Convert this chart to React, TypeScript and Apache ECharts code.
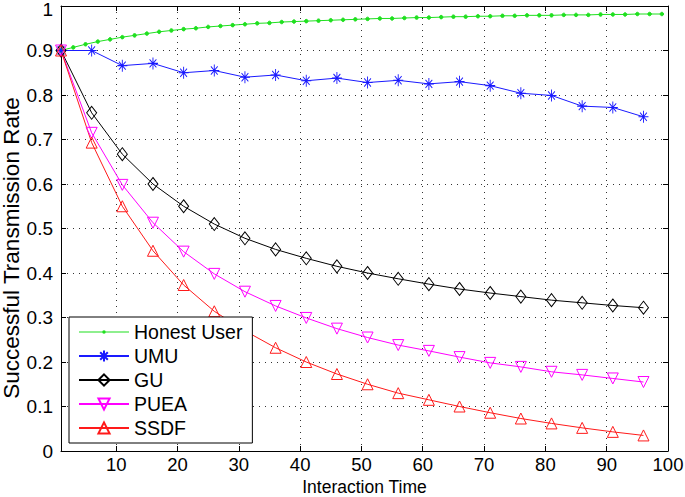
import React, { useEffect, useRef } from "react";
import * as echarts from "echarts";

const honestX = [1, 3, 5, 7, 9, 11, 13, 15, 17, 19, 21, 23, 25, 27, 29, 31, 33, 35, 37, 39, 41, 43, 45, 47, 49, 51, 53, 55, 57, 59, 61, 63, 65, 67, 69, 71, 73, 75, 77, 79, 81, 83, 85, 87, 89, 91, 93, 95, 97, 99];
const honestY = [0.9, 0.907, 0.914, 0.92, 0.925, 0.93, 0.934, 0.938, 0.942, 0.945, 0.948, 0.95, 0.953, 0.955, 0.957, 0.959, 0.961, 0.962, 0.964, 0.965, 0.966, 0.967, 0.968, 0.969, 0.97, 0.971, 0.972, 0.972, 0.973, 0.974, 0.974, 0.975, 0.976, 0.976, 0.977, 0.977, 0.978, 0.978, 0.979, 0.979, 0.979, 0.98, 0.98, 0.98, 0.981, 0.981, 0.981, 0.982, 0.982, 0.982];

const markX = [1, 6, 11, 16, 21, 26, 31, 36, 41, 46, 51, 56, 61, 66, 71, 76, 81, 86, 91, 96];
const umuY = [0.9, 0.9, 0.866, 0.871, 0.85, 0.855, 0.84, 0.845, 0.832, 0.838, 0.828, 0.833, 0.825, 0.83, 0.821, 0.804, 0.799, 0.775, 0.772, 0.751];
const guY = [0.9, 0.76, 0.667, 0.6, 0.55, 0.51, 0.478, 0.453, 0.433, 0.415, 0.4, 0.387, 0.375, 0.364, 0.355, 0.347, 0.339, 0.333, 0.327, 0.322];
const pueaY = [0.9, 0.715, 0.598, 0.513, 0.448, 0.398, 0.358, 0.326, 0.299, 0.275, 0.255, 0.238, 0.225, 0.211, 0.198, 0.189, 0.178, 0.171, 0.163, 0.155];
const ssdfY = [0.9, 0.693, 0.55, 0.45, 0.373, 0.314, 0.27, 0.232, 0.2, 0.173, 0.15, 0.13, 0.115, 0.1, 0.086, 0.073, 0.062, 0.052, 0.043, 0.035];

const seriesNames = ["Honest User", "UMU", "GU", "PUEA", "SSDF"];
const xTitle = "Interaction Time";
const yTitle = "Successful Transmission Rate";
const yMaxLabel = "1";

const FONT = "Liberation Sans, Arial, Helvetica, sans-serif";
const asterisk = "path://M5,0L5,10M0,5L10,5M1.6,1.6L8.4,8.4M1.6,8.4L8.4,1.6";
const dotLineIcon = "path://M0,0M50,14M0,6.5L50,6.5L50,7.5L0,7.5Z M23.2,7 A1.8,1.8 0 1 1 26.8,7 A1.8,1.8 0 1 1 23.2,7Z";

function pairs(xs: number[], ys: number[]) {
  return xs.map((x, i) => [x, ys[i]]);
}

export default function App() {
  const ref = useRef<HTMLDivElement>(null);
  useEffect(() => {
    if (!ref.current) return;
    const chart = echarts.init(ref.current, null, { renderer: "svg" });
    const tickCommon = { show: true, inside: true, length: 5, lineStyle: { color: "#000", width: 1 } };
    const lineCommon = { show: true, onZero: false, lineStyle: { color: "#000", width: 1 } };
    const split = { show: true, lineStyle: { color: "#333", width: 1, type: [1, 5] as any } };
    const mk = (name: string, data: number[][], color: string, symbol: string, size: any, rotate = 0, filled = false) => ({
      name,
      type: "line",
      data,
      clip: false,
      symbol,
      symbolSize: size,
      symbolRotate: rotate,
      showAllSymbol: true,
      lineStyle: { color, width: 1 },
      itemStyle: { color: filled ? color : "transparent", borderColor: color, borderWidth: 1 },
      emphasis: { disabled: true },
    });
    chart.setOption({
      animation: false,
      backgroundColor: "#fff",
      textStyle: { fontFamily: FONT },
      grid: { left: 61, right: 17, top: 6, bottom: 46, containLabel: false, outerBoundsMode: "none" },
      legend: {
        orient: "vertical",
        left: 69,
        top: 317,
        data: [
          { name: seriesNames[0], icon: dotLineIcon, itemStyle: { borderWidth: 0, color: "#1fe01f" } },
          seriesNames[1],
          seriesNames[2],
          seriesNames[3],
          seriesNames[4],
        ],
        backgroundColor: "#fff",
        borderColor: "#000",
        borderWidth: 1,
        borderRadius: 0,
        padding: [5, 10, 5, 9],
        itemGap: 4,
        itemWidth: 50,
        itemHeight: 14,
        textStyle: { fontFamily: FONT, fontSize: 19.5, color: "#000", lineHeight: 20 },
      },
      graphic: [
        {
          type: "text",
          x: 11,
          y: 248,
          rotation: Math.PI / 2,
          style: {
            text: yTitle,
            fontSize: 22.5,
            fontFamily: FONT,
            fill: "#000",
            textAlign: "center",
            textVerticalAlign: "middle",
          },
        },
        {
          type: "text",
          x: 53,
          y: 0,
          style: {
            text: yMaxLabel,
            fontSize: 19,
            lineHeight: 19,
            fontFamily: FONT,
            fill: "#000",
            textAlign: "right",
            textVerticalAlign: "top",
          },
        },
      ],
      xAxis: [
        {
          type: "value",
          position: "bottom",
          min: 1,
          max: 100,
          splitNumber: 10,
          axisLine: lineCommon,
          axisTick: tickCommon,
          splitLine: split,
          axisLabel: {
            color: "#000",
            fontSize: 18.5,
            lineHeight: 16,
            fontFamily: FONT,
            margin: 5,
            formatter: (v: number) => (v === 1 ? "" : String(v)),
          },
          name: xTitle,
          nameLocation: "middle",
          nameGap: 28,
          nameMoveOverlap: false,
          nameTextStyle: { color: "#000", fontSize: 17.5, lineHeight: 16, fontFamily: FONT },
        },
        {
          type: "value",
          position: "top",
          min: 1,
          max: 100,
          splitNumber: 10,
          axisLine: lineCommon,
          axisTick: tickCommon,
          splitLine: { show: false },
          axisLabel: { show: false },
        },
      ],
      yAxis: [
        {
          type: "value",
          position: "left",
          min: 0,
          max: 1,
          interval: 0.1,
          axisLine: lineCommon,
          axisTick: tickCommon,
          splitLine: split,
          axisLabel: { color: "#000", fontSize: 19, fontFamily: FONT, margin: 8, padding: [3, 0, 0, 0], showMaxLabel: false },
        },
        {
          type: "value",
          position: "right",
          min: 0,
          max: 1,
          interval: 0.1,
          axisLine: lineCommon,
          axisTick: tickCommon,
          splitLine: { show: false },
          axisLabel: { show: false },
        },
      ],
      series: [
        mk(seriesNames[0], pairs(honestX, honestY), "#1fe01f", "circle", 3.5, 0, true),
        mk(seriesNames[1], pairs(markX, umuY), "#1a1aff", asterisk, [10, 12], 0, true),
        mk(seriesNames[2], pairs(markX, guY), "#000000", "diamond", [10, 13]),
        mk(seriesNames[3], pairs(markX, pueaY), "#ff00ff", "triangle", 11, 180),
        mk(seriesNames[4], pairs(markX, ssdfY), "#ff1a1a", "triangle", 11),
      ],
    });
    return () => chart.dispose();
  }, []);
  return <div ref={ref} style={{ position: "fixed", left: 0, top: 0, width: 685, height: 497 }} />;
}
